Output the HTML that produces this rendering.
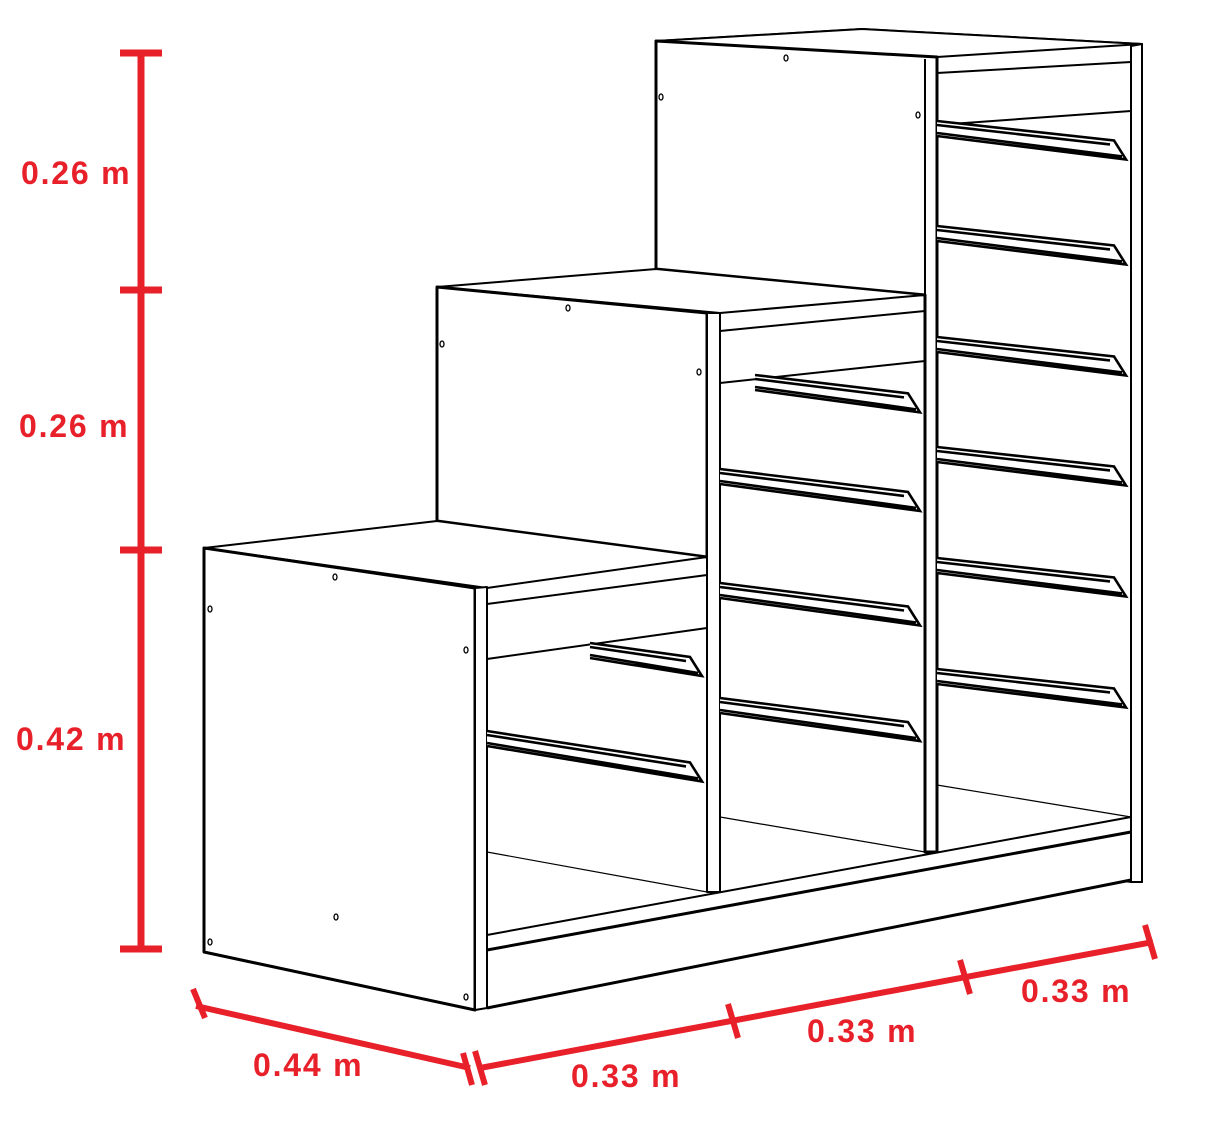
<!DOCTYPE html>
<html><head><meta charset="utf-8"><style>
html,body{margin:0;padding:0;background:#fff;}
svg{display:block;}
.dim{font-family:"Liberation Sans",sans-serif;font-weight:bold;font-size:32px;letter-spacing:1.8px;fill:#e8202a;}
</style></head><body>
<svg id="s" width="1208" height="1140" viewBox="0 0 1208 1140">
<g id="furn" fill="#fff" stroke="#000" stroke-width="2" stroke-linejoin="round">
  <polygon points="656,41 862,29 1142,44 1142,882 1131,882 937,852 925,852 925,295 656,269"/>
  <polygon points="656,41 862,29 1142,44 937,57"/>
  <polygon points="656,41 937,57 937,852 925,852 925,295 656,269" stroke-width="3"/>
  <line x1="925" y1="59" x2="925" y2="852"/>
  <polygon points="1131,46 1142,44 1142,882 1131,882"/>
  <line x1="937" y1="73" x2="1131" y2="62"/>
  <line x1="937" y1="125" x2="1131" y2="111"/>
  <line x1="937" y1="785" x2="1131" y2="817" stroke-width="1.2"/>
  <polygon points="437,287 656,269 925,295 720,313"/>
  <polygon points="437,287 707,313 707,557 437,521" stroke-width="3"/>
  <polygon points="707,313 720,313 720,892 707,892"/>
  <line x1="720" y1="331" x2="925" y2="311"/>
  <line x1="720" y1="383" x2="925" y2="361"/>
  <line x1="720" y1="817" x2="925" y2="852" stroke-width="1.2"/>
  <polygon points="204,548 437,521 707,557 487,588"/>
  <polygon points="204,548 475,588 475,1010 204,952" stroke-width="3"/>
  <polygon points="475,588 487,587 487,1008 475,1010"/>
  <line x1="487" y1="604" x2="707" y2="575"/>
  <line x1="487" y1="659" x2="707" y2="628"/>
  <line x1="487" y1="852" x2="707" y2="892" stroke-width="1.2"/>
  <polygon points="487,935 1131,817 1131,880 487,1008"/>
  <line x1="487" y1="950" x2="1131" y2="832" stroke-width="3"/>
  <line x1="487" y1="1008" x2="1131" y2="880" stroke-width="3"/>
</g>
<g id="rails"></g>
<g id="holes" fill="#fff" stroke="#000" stroke-width="1.3"></g>
<g id="dims"></g>
</svg>
<script>
const NS="http://www.w3.org/2000/svg";
// rails: [x0, y0 at left, x1, slope]
const railsLeft=[[590,643,702,0.14],[487,731,702,0.155]];
const railsMid=[[755,375,920,0.12],[720,469,920,0.122],[720,583,920,0.125],[720,698,920,0.128]];
const railsRight=[[937,121,1126,0.11],[937,226,1126,0.11],[937,337,1126,0.11],[937,447,1126,0.11],[937,558,1126,0.11],[937,669,1126,0.11]];
const vLabels=["0.26 m","0.26 m","0.42 m"];
const hLabels=["0.44 m","0.33 m","0.33 m","0.33 m"];
const rg=document.getElementById('rails');
function rail(r){
  const [x0,y0,x1,k]=r; const xe=x1-12, h=15;
  const p=document.createElementNS(NS,'path');
  const yt=y0+(xe-x0)*k;
  p.setAttribute('d',`M${x0},${y0} L${xe},${yt} L${x1},${yt+h+4} L${x0},${y0+h} M${x0},${y0+4} L${xe-4},${yt+4} M${x0},${y0+h-3} L${x1-4},${yt+h+1}`);
  p.setAttribute('fill','#fff');p.setAttribute('stroke','#000');p.setAttribute('stroke-width','2.6');
  
  
  rg.appendChild(p);
}
[...railsLeft,...railsMid,...railsRight].forEach(rail);
const holes=[[786,58],[661,97],[918,115],[568,308],[442,344],[699,372],[335,577],[210,609],[466,650],[336,917],[210,942],[466,997]];
const hg=document.getElementById('holes');
holes.forEach(h=>{const e=document.createElementNS(NS,'ellipse');e.setAttribute('cx',h[0]);e.setAttribute('cy',h[1]);e.setAttribute('rx',2);e.setAttribute('ry',3);


hg.appendChild(e);});
const dg=document.getElementById('dims');
function ln(x1,y1,x2,y2,w){const l=document.createElementNS(NS,'line');l.setAttribute('x1',x1);l.setAttribute('y1',y1);l.setAttribute('x2',x2);l.setAttribute('y2',y2);l.setAttribute('stroke','#e8202a');l.setAttribute('stroke-width',w);


dg.appendChild(l);}
function tx(x,y,s){const t=document.createElementNS(NS,'text');t.setAttribute('x',x);t.setAttribute('y',y);t.setAttribute('class','dim');t.textContent=s;


dg.appendChild(t);}
const vt=[53,290,550,949];
ln(141,53,141,949,7);
vt.forEach(y=>ln(120,y,162,y,7));
const vly=[184,437,750], vlx=[21,19,16];
vLabels.forEach((s,i)=>tx(vlx[i],vly[i],s));
ln(196,1006,470,1068,6);
ln(193,989,205,1018,6);ln(463,1053,472,1085,6);
tx(253,1076,hLabels[0]);
ln(480,1068,1153,942,6);
[[480,1068],[733,1021],[965,977],[1150,942]].forEach(p=>ln(p[0]-5,p[1]-17,p[0]+5,p[1]+17,6));
tx(571,1087,hLabels[1]);tx(807,1042,hLabels[2]);tx(1021,1002,hLabels[3]);
</script>
</body></html>
